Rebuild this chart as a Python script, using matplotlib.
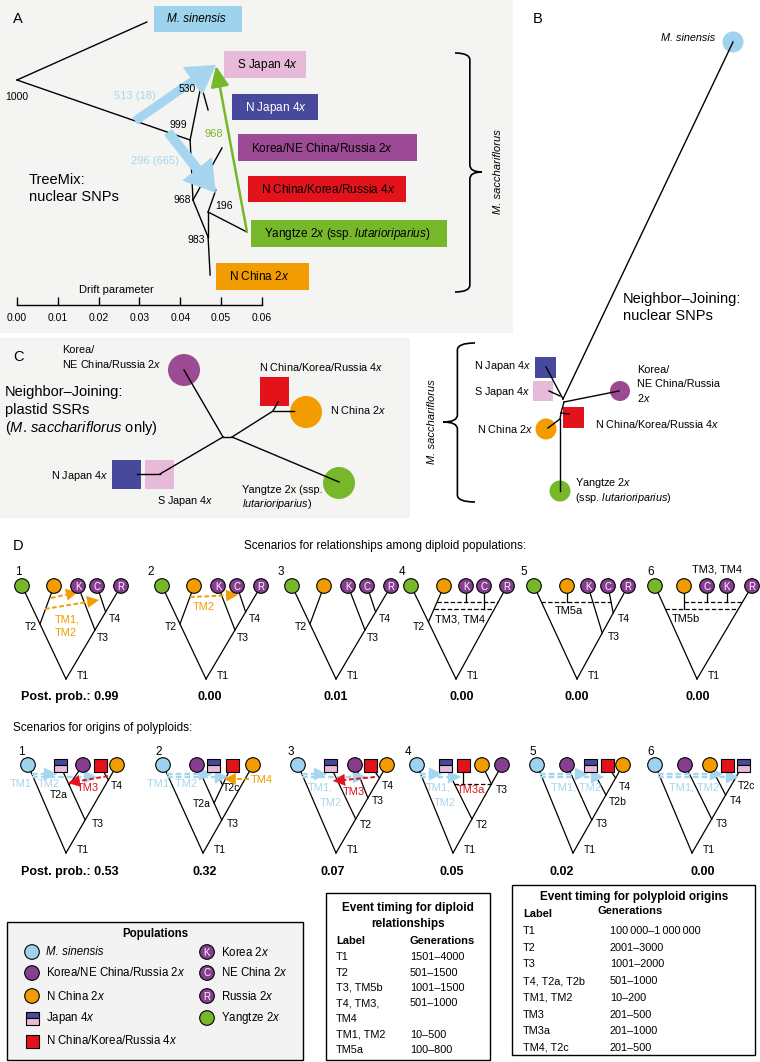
import matplotlib
matplotlib.use('Agg')
import matplotlib.pyplot as plt
from matplotlib.patches import Rectangle, Circle, PathPatch
from matplotlib.path import Path

plt.rcParams['font.family'] = ['Liberation Sans', 'DejaVu Sans']
plt.rcParams['mathtext.fontset'] = 'custom'
plt.rcParams['mathtext.rm'] = 'Liberation Sans'
plt.rcParams['mathtext.it'] = 'Liberation Sans:italic'
plt.rcParams['mathtext.bf'] = 'Liberation Sans:bold'

# ---------------------------------------------------------------- data
drift_ticks = [0.00, 0.01, 0.02, 0.03, 0.04, 0.05, 0.06]

# TreeMix tree: node -> (drift, row)
treemix_nodes = {
    'root': (0.0000, 80), 'msin': (0.0318, 22), 'n999': (0.0424, 140),
    'n530': (0.0451, 85), 'njap': (0.0468, 110), 'n968': (0.0431, 200),
    'kor': (0.0502, 148), 'n983': (0.0468, 237), 'nchina': (0.0473, 275),
    'n196': (0.0468, 212), 'ncr': (0.0487, 190), 'yang': (0.0563, 232),
}
treemix_edges = [('root', 'msin'), ('root', 'n999'), ('n999', 'n530'), ('n530', 'njap'),
                 ('n999', 'n968'), ('n968', 'kor'), ('n968', 'n983'), ('n983', 'nchina'),
                 ('n983', 'n196'), ('n196', 'ncr'), ('n196', 'yang')]
treemix_support = ['1000', '530', '999', '968', '196', '983']
support_nodes = ['root', 'n530', 'n999', 'n968', 'n196', 'n983']
migration_labels = ['513 (18)', '296 (665)', '968']

pops_A = ['M. sinensis', 'S Japan 4$x$', 'N Japan 4$x$', 'Korea/NE China/Russia 2$x$',
          'N China/Korea/Russia 4$x$', 'Yangtze 2$x$ (ssp. $\\mathit{lutarioriparius}$)', 'N China 2$x$']

post_prob_diploid = [0.99, 0.00, 0.01, 0.00, 0.00, 0.00]
post_prob_polyploid = [0.53, 0.32, 0.07, 0.05, 0.02, 0.00]

legend_left = ['M. sinensis', 'Korea/NE China/Russia 2$x$', 'N China 2$x$', 'Japan 4$x$', 'N China/Korea/Russia 4$x$']
legend_right = ['Korea 2$x$', 'NE China 2$x$', 'Russia 2$x$', 'Yangtze 2$x$']

diploid_timing_labels = ['T1', 'T2', 'T3, TM5b', 'T4, TM3,', 'TM4', 'TM1, TM2', 'TM5a']
diploid_timing_gens = ['1501–4000', '501–1500', '1001–1500', '501–1000', '', '10–500', '100–800']
poly_timing_labels = ['T1', 'T2', 'T3', 'T4, T2a, T2b', 'TM1, TM2', 'TM3', 'TM3a', 'TM4, T2c']
poly_timing_gens = ['100\u2009000–1\u2009000\u2009000', '2001–3000', '1001–2000', '501–1000',
                    '10–200', '201–500', '201–1000', '201–500']

# ---------------------------------------------------------------- colours
BG = '#f4f4f2'
LBLUE = '#a6d6ef'
C_MSIN = '#9dd3ec'
C_NJAP = '#474a9c'
C_SJAP = '#e6bad8'
C_KOR = '#9b4a93'
C_RED = '#e3131c'
C_YANG = '#76b82a'
C_ORA = '#f39c00'
C_PUR = '#873e91'

W, H = 760, 1062
fig = plt.figure(figsize=(W / 100, H / 100), dpi=100)
ax = fig.add_axes([0, 0, 1, 1])
ax.set_xlim(0, W)
ax.set_ylim(H, 0)
ax.axis('off')
TP = ax.transData

# ================================================================ panel A
PX_PER_DRIFT = 4083
A_X0 = 17


def d(px):
    return (px - A_X0) / PX_PER_DRIFT


axA = fig.add_axes([0, 1 - 333 / H, 513 / W, 333 / H])
axA.set_xlim(d(0), d(513))
axA.set_ylim(333, 0)
axA.set_facecolor(BG)
for s in ['top', 'left', 'right']:
    axA.spines[s].set_visible(False)
axA.spines['bottom'].set_position(('data', 305))
axA.spines['bottom'].set_bounds(0, 0.06)
axA.spines['bottom'].set_linewidth(1.0)
axA.set_xticks(drift_ticks)
axA.set_xticklabels(['%.2f' % t for t in drift_ticks], fontsize=7.5)
axA.tick_params(axis='x', direction='in', length=6, width=1.0, pad=6)
axA.set_yticks([])

for a, b in treemix_edges:
    xa, ya = treemix_nodes[a]
    xb, yb = treemix_nodes[b]
    axA.plot([xa, xb], [ya, yb], color='k', lw=1.0, zorder=2)

sup_off = [(0, 17), (-14, 4), (-12, -15), (-11, 0), (16, -6), (-12, 3)]
for lab, nd, (ox_, oy_) in zip(treemix_support, support_nodes, sup_off):
    x, y = treemix_nodes[nd]
    axA.text(d(A_X0 + x * PX_PER_DRIFT + ox_), y + oy_, lab, fontsize=7.5,
             ha='center', va='center', zorder=5)

# population boxes (px)
boxes_A = [(154, 6, 242, 32, C_MSIN, 'k'), (224, 51, 306, 78, C_SJAP, 'k'),
           (232, 94, 318, 120, C_NJAP, 'white'), (238, 134, 417, 161, C_KOR, 'k'),
           (248, 176, 406, 202, C_RED, 'k'), (251, 220, 447, 247, C_YANG, 'k'),
           (216, 263, 309, 290, C_ORA, 'k')]
for name, (x0, y0, x1, y1, col, tc) in zip(pops_A, boxes_A):
    axA.add_patch(Rectangle((x0, y0), x1 - x0, y1 - y0, fc=col, ec='none',
                            transform=TP, zorder=1))
    axA.text(x0 + 13, (y0 + y1) / 2 + 0.5, name, transform=TP, fontsize=8.5,
             color=tc, va='center', ha='left', zorder=5,
             style='italic' if name.startswith('M.') else 'normal')

# migration arrows
axA.annotate('', xy=(216, 65), xytext=(135, 121), xycoords=TP, textcoords=TP,
             arrowprops=dict(arrowstyle='simple,head_length=1.2,head_width=1.45,tail_width=0.38',
                             mutation_scale=17, fc=LBLUE, ec='none', shrinkA=0, shrinkB=0), zorder=3)
axA.annotate('', xy=(216, 193), xytext=(168, 132), xycoords=TP, textcoords=TP,
             arrowprops=dict(arrowstyle='simple,head_length=1.3,head_width=1.6,tail_width=0.42',
                             mutation_scale=17, fc=LBLUE, ec='none', shrinkA=0, shrinkB=0), zorder=3)
axA.annotate('', xy=(216, 66), xytext=(247, 232), xycoords=TP, textcoords=TP,
             arrowprops=dict(arrowstyle='-|>,head_length=0.9,head_width=0.4',
                             mutation_scale=14, color=C_YANG, lw=1.8, shrinkA=0, shrinkB=0), zorder=3)
axA.text(135, 96, migration_labels[0], transform=TP, fontsize=8, color=LBLUE, ha='center', va='center')
axA.text(155, 161, migration_labels[1], transform=TP, fontsize=8, color=LBLUE, ha='center', va='center')
axA.text(214, 134, migration_labels[2], transform=TP, fontsize=8, color=C_YANG, ha='center', va='center')

axA.text(29, 180, 'TreeMix:', transform=TP, fontsize=10.5, va='center')
axA.text(29, 197, 'nuclear SNPs', transform=TP, fontsize=10.5, va='center')
axA.text(13, 19, 'A', transform=TP, fontsize=10.5, va='center')
axA.text(d(116), 290, 'Drift parameter', fontsize=8, ha='center', va='center')


def brace(axis, x_end, x_tip, y0, y1, ym, k=7):
    xs = x_end + (x_tip - x_end) * 0.55
    verts = [(x_end, y0), (xs, y0), (xs, y0 + k), (xs, ym - k), (xs, ym), (x_tip, ym),
             (xs, ym), (xs, ym + k), (xs, y1 - k), (xs, y1), (x_end, y1)]
    codes = [Path.MOVETO, Path.CURVE3, Path.CURVE3, Path.LINETO, Path.CURVE3, Path.CURVE3,
             Path.CURVE3, Path.CURVE3, Path.LINETO, Path.CURVE3, Path.CURVE3]
    axis.add_patch(PathPatch(Path(verts, codes), fc='none', ec='k', lw=1.2, transform=TP))


brace(axA, 455, 482, 53, 292, 172)
axA.text(498, 172, 'M. sacchariflorus', transform=TP, rotation=90, fontsize=8,
         style='italic', ha='center', va='center')

# ================================================================ panel B
ax.text(533, 19, 'B', fontsize=10.5, va='center')
b_edges = [((733, 42), (563, 399)), ((563, 399), (546, 367)), ((560, 396), (549, 391)),
           ((564, 402), (619, 391)), ((564, 402), (561, 413)), ((561, 413), (569, 414)),
           ((561, 413), (560, 419)), ((560, 419), (548, 428)), ((560, 419), (560, 491))]
for (x0, y0), (x1, y1) in b_edges:
    ax.plot([x0, x1], [y0, y1], color='k', lw=1.0, zorder=3)
ax.add_patch(Circle((733, 42), 10.5, fc=C_MSIN, ec='none', zorder=2))
ax.add_patch(Rectangle((535, 357), 21, 21, fc=C_NJAP, ec='none', zorder=2))
ax.add_patch(Rectangle((533, 381), 20, 20, fc=C_SJAP, ec='none', zorder=2))
ax.add_patch(Circle((620, 391), 10, fc=C_KOR, ec='none', zorder=2))
ax.add_patch(Rectangle((563, 407), 21, 21, fc=C_RED, ec='none', zorder=2))
ax.add_patch(Circle((546, 429), 10.5, fc=C_ORA, ec='none', zorder=2))
ax.add_patch(Circle((560, 491), 10.5, fc=C_YANG, ec='none', zorder=2))

fs_b = 7.8
ax.text(715, 38, pops_A[0], fontsize=fs_b, style='italic', ha='right', va='center')
ax.text(531, 366, 'N Japan 4$x$', fontsize=fs_b, ha='right', va='center')
ax.text(531, 392, 'S Japan 4$x$', fontsize=fs_b, ha='right', va='center')
ax.text(533, 429, 'N China 2$x$', fontsize=fs_b, ha='right', va='center')
ax.text(637, 370, 'Korea/', fontsize=fs_b, va='center')
ax.text(637, 384, 'NE China/Russia', fontsize=fs_b, va='center')
ax.text(637, 398, '2$x$', fontsize=fs_b, va='center')
ax.text(595, 424, 'N China/Korea/Russia 4$x$', fontsize=fs_b, va='center')
ax.text(575, 483, 'Yangtze 2$x$', fontsize=fs_b, va='center')
ax.text(575, 498, '(ssp. $\\mathit{lutarioriparius}$)', fontsize=fs_b, va='center')
ax.text(623, 299, 'Neighbor–Joining:', fontsize=10.5, va='center')
ax.text(623, 316, 'nuclear SNPs', fontsize=10.5, va='center')
brace(ax, 475, 443, 343, 502, 422)
ax.text(432, 422, 'M. sacchariflorus', rotation=90, fontsize=8, style='italic',
        ha='center', va='center')

# ================================================================ panel C
ax.add_patch(Rectangle((0, 338), 410, 180, fc=BG, ec='none', zorder=0))
ax.text(13, 357, 'C', fontsize=10.5, va='center')
c_edges = [((184, 370), (223, 437)), ((223, 437), (232, 437)), ((232, 437), (273, 411)),
           ((273, 411), (278, 402)), ((273, 411), (294, 411)), ((232, 437), (339, 482)),
           ((223, 437), (160, 474)), ((160, 474), (137, 474))]
for (x0, y0), (x1, y1) in c_edges:
    ax.plot([x0, x1], [y0, y1], color='k', lw=1.0, zorder=3)
ax.add_patch(Circle((184, 370), 16, fc=C_KOR, ec='none', zorder=2))
ax.add_patch(Rectangle((260, 377), 29, 29, fc=C_RED, ec='none', zorder=2))
ax.add_patch(Circle((306, 412), 16, fc=C_ORA, ec='none', zorder=2))
ax.add_patch(Circle((339, 483), 16, fc=C_YANG, ec='none', zorder=2))
ax.add_patch(Rectangle((112, 460), 29, 29, fc=C_NJAP, ec='none', zorder=2))
ax.add_patch(Rectangle((145, 460), 29, 29, fc=C_SJAP, ec='none', zorder=2))
ax.text(62, 350, 'Korea/', fontsize=fs_b, va='center')
ax.text(62, 364, 'NE China/Russia 2$x$', fontsize=fs_b, va='center')
ax.text(259, 367, 'N China/Korea/Russia 4$x$', fontsize=fs_b, va='center')
ax.text(330, 410, 'N China 2$x$', fontsize=fs_b, va='center')
ax.text(108, 476, 'N Japan 4$x$', fontsize=fs_b, ha='right', va='center')
ax.text(157, 501, 'S Japan 4$x$', fontsize=fs_b, va='center')
ax.text(242, 490, 'Yangtze 2x (ssp.', fontsize=fs_b, va='center')
ax.text(242, 504, '$\\mathit{lutarioriparius}$)', fontsize=fs_b, va='center')
ax.text(5, 392, 'Neighbor–Joining:', fontsize=10.5, va='center')
ax.text(5, 410, 'plastid SSRs', fontsize=10.5, va='center')
ax.text(5, 428, '($\\mathit{M.\\,sacchariflorus}$ only)', fontsize=10.5, va='center')

# ================================================================ panel D
TIPCOL = {'g': C_YANG, 'o': C_ORA, 'K': C_PUR, 'C': C_PUR, 'R': C_PUR,
          'ms': C_MSIN, 'pu': C_PUR, 'or': C_ORA}


def on_line(p, q, y):
    t = (y - p[1]) / (q[1] - p[1])
    return (p[0] + t * (q[0] - p[0]), y)


def draw_tip(k, x, y):
    if k == 'rd':
        ax.add_patch(Rectangle((x - 6.5, y - 6.5), 13, 13, fc=C_RED, ec='k', lw=0.8, zorder=5))
    elif k == 'jp':
        ax.add_patch(Rectangle((x - 6.5, y - 6.5), 13, 6.5, fc=C_NJAP, ec='k', lw=0.8, zorder=5))
        ax.add_patch(Rectangle((x - 6.5, y), 13, 6.5, fc=C_SJAP, ec='k', lw=0.8, zorder=5))
    else:
        ax.add_patch(Circle((x, y), 7.3, fc=TIPCOL[k], ec='k', lw=0.8, zorder=5))
        if k in ('K', 'C', 'R'):
            ax.text(x, y + 0.5, k, color='white', fontsize=7, ha='center', va='center', zorder=6)


def dashed_arrow(x0, y0, x1, y1, col, lw, head):
    # dashed shaft, solid head
    L = ((x1 - x0) ** 2 + (y1 - y0) ** 2) ** 0.5
    ux, uy = (x1 - x0) / L, (y1 - y0) / L
    xs, ys = x1 - ux * head * 0.8, y1 - uy * head * 0.8
    ax.plot([x0, xs], [y0, ys], color=col, lw=lw, ls=(0, (2.4, 1.3)), zorder=4,
            solid_capstyle='butt', dash_capstyle='butt')
    ax.annotate('', xy=(x1, y1), xytext=(x1 - ux * head, y1 - uy * head),
                arrowprops=dict(arrowstyle='-|>,head_length=0.9,head_width=0.45', fc=col, ec=col,
                                lw=0.3, shrinkA=0, shrinkB=0, mutation_scale=head), zorder=4)


def draw_tree(spec, ox, tip_y, root_y):
    P = {}
    for k, dx in spec['tips']:
        P[k] = (ox + dx, tip_y)
    P['root'] = (ox + spec['root'], root_y)
    for name, a, b, y in spec.get('nodes', []):
        P[name] = on_line(P[a], P[b], y)
    for a, b in spec['edges']:
        ax.plot([P[a][0], P[b][0]], [P[a][1], P[b][1]], color='k', lw=0.9, zorder=2)
    for k, y in spec.get('verticals', []):
        ax.plot([P[k][0]] * 2, [tip_y, y], color='k', lw=0.9, zorder=2)
    for y, e0, e1 in spec.get('dashed', []):
        xs = [P[e][0] if isinstance(e, str) else on_line(P[e[0]], P[e[1]], y)[0] for e in (e0, e1)]
        ax.plot(xs, [y, y], color='k', lw=0.9, ls=(0, (3.5, 1.8)), zorder=2)
    for x0, y0, x1, y1, col, lw, ms in spec.get('arrows', []):
        dashed_arrow(ox + x0, y0, ox + x1, y1, col, lw, ms)
    for text, node, ddx, ddy, ha in spec.get('labels', []):
        ax.text(P[node][0] + ddx, P[node][1] + ddy, text, ha=ha, va='center', fontsize=7.5, zorder=6)
    ax.text(P['root'][0] + 11, root_y - 3, 'T1', ha='left', va='center', fontsize=7.5)
    for text, dx, y, col, ha in spec.get('texts', []):
        ax.text(ox + dx, y, text, color=col, ha=ha, va='center', fontsize=8, zorder=6)
    for k, dx in spec['tips']:
        draw_tip(k, ox + dx, tip_y)


base1 = dict(tips=[('g', 0), ('o', 32), ('K', 56), ('C', 75), ('R', 99)], root=44,
             nodes=[('T2', 'g', 'root', 624), ('T3', 'R', 'root', 630), ('T4', 'R', 'T3', 612)],
             edges=[('g', 'root'), ('o', 'T2'), ('R', 'root'), ('K', 'T3'), ('C', 'T4')],
             labels=[('T2', 'T2', -3, 3, 'right'), ('T3', 'T3', 2, 8, 'left'), ('T4', 'T4', 3, 7, 'left')])
row1 = [
    dict(base1, arrows=[(29, 598, 56, 592, C_ORA, 1.4, 9), (23, 609, 77, 600, C_ORA, 1.4, 9)],
         texts=[('TM1,', 33, 620, C_ORA, 'left'), ('TM2', 33, 633, C_ORA, 'left')]),
    dict(base1, arrows=[(28, 597, 76, 595, C_ORA, 1.4, 9)],
         texts=[('TM2', 31, 607, C_ORA, 'left')]),
    dict(base1),
    dict(tips=[('g', 0), ('o', 33), ('K', 55), ('C', 73), ('R', 96)], root=45,
         nodes=[('T2', 'g', 'root', 622)],
         edges=[('g', 'root'), ('o', 'T2'), ('R', 'root')],
         verticals=[('K', 602), ('C', 609)],
         dashed=[(602, ('o', 'T2'), ('R', 'root')), (609, ('o', 'T2'), ('R', 'root'))],
         labels=[('T2', 'T2', -3, 5, 'right')],
         texts=[('TM3, TM4', 24, 619, 'k', 'left')]),
    dict(tips=[('g', 0), ('o', 33), ('K', 54), ('C', 74), ('R', 94)], root=43,
         nodes=[('T3', 'R', 'root', 633), ('T4', 'R', 'T3', 613)],
         edges=[('g', 'root'), ('R', 'root'), ('K', 'T3'), ('C', 'T4')],
         verticals=[('o', 602)],
         dashed=[(602, ('g', 'root'), ('C', 'T4'))],
         labels=[('T4', 'T4', 5, 6, 'left'), ('T3', 'T3', 6, 4, 'left')],
         texts=[('TM5a', 21, 611, 'k', 'left')]),
    dict(tips=[('g', 0), ('o', 29), ('C', 52), ('K', 72), ('R', 97)], root=42,
         edges=[('g', 'root'), ('R', 'root')],
         verticals=[('o', 609), ('C', 602), ('K', 602)],
         dashed=[(602, 'o', ('R', 'root')), (609, ('g', 'root'), ('R', 'root'))],
         texts=[('TM3, TM4', 37, 569, 'k', 'left'), ('TM5b', 17, 619, 'k', 'left')]),
]
R1_OX = [22, 162, 292, 411, 534, 655]
R1_NUM_X = [15, 147, 278, 399, 520, 647]
R1_PP_X = [70, 210, 336, 462, 577, 698]

ax.text(13, 546, 'D', fontsize=10.5, va='center')
ax.text(385, 546, 'Scenarios for relationships among diploid populations:', fontsize=8.5,
        ha='center', va='center')
for i, spec in enumerate(row1):
    draw_tree(spec, R1_OX[i], 586, 679)
    ax.text(R1_NUM_X[i], 572, str(i + 1), fontsize=8.5, va='center')
    pp = '%.2f' % post_prob_diploid[i]
    ax.text(R1_PP_X[i], 697, ('Post. prob.: ' + pp) if i == 0 else pp, fontsize=9,
            weight='bold', ha='center', va='center')

LB = LBLUE
row2 = [
    dict(tips=[('ms', 0), ('jp', 32), ('pu', 55), ('rd', 72), ('or', 89)], root=38,
         nodes=[('T3', 'or', 'root', 820), ('T4', 'or', 'T3', 780), ('T2a', 'jp', 'T3', 785)],
         edges=[('ms', 'root'), ('or', 'root'), ('jp', 'T3'), ('pu', 'T2a'), ('rd', 'T4')],
         labels=[('T2a', 'T2a', -1, 10, 'right'), ('T4', 'T4', 3, 6, 'left'), ('T3', 'T3', 7, 4, 'left')],
         arrows=[(4, 774, 29, 774, LB, 1.7, 10), (4, 777, 69, 777, LB, 1.7, 10),
                 (80, 776, 40, 783, C_RED, 1.4, 9)],
         texts=[('TM1', -7, 784, LB, 'center'), ('TM2', 21, 784, LB, 'center'),
                ('TM3', 60, 788, C_RED, 'center')]),
    dict(tips=[('ms', 0), ('pu', 34), ('jp', 50), ('rd', 69), ('or', 90)], root=40,
         nodes=[('T3', 'or', 'root', 820), ('T2a', 'pu', 'T3', 803), ('T2c', 'rd', 'T2a', 785)],
         edges=[('ms', 'root'), ('or', 'root'), ('pu', 'T3'), ('rd', 'T2a'), ('jp', 'T2c')],
         labels=[('T2a', 'T2a', -3, 1, 'right'), ('T2c', 'T2c', 0, 3, 'left'), ('T3', 'T3', 5, 4, 'left')],
         arrows=[(4, 774, 49, 774, LB, 1.7, 10), (4, 777, 65, 777, LB, 1.7, 10),
                 (86, 779, 61, 779, C_ORA, 1.4, 9)],
         texts=[('TM1, TM2', 9, 784, LB, 'center'), ('TM4', 88, 780, C_ORA, 'left')]),
    dict(tips=[('ms', 0), ('jp', 32), ('pu', 57), ('rd', 72), ('or', 89)], root=38,
         nodes=[('T2', 'or', 'root', 819), ('T3', 'or', 'T2', 798), ('T4', 'or', 'T2', 778)],
         edges=[('ms', 'root'), ('or', 'root'), ('jp', 'T2'), ('pu', 'T3'), ('rd', 'T4')],
         labels=[('T4', 'T4', 2, 8, 'left'), ('T3', 'T3', 4, 3, 'left'), ('T2', 'T2', 4, 6, 'left')],
         arrows=[(4, 774, 29, 774, LB, 1.7, 10), (4, 777, 68, 777, LB, 1.7, 10),
                 (77, 777, 35, 781, C_RED, 1.4, 9)],
         texts=[('TM1,', 22, 787, LB, 'center'), ('TM2', 33, 803, LB, 'center'),
                ('TM3', 56, 792, C_RED, 'center')]),
    dict(tips=[('ms', 0), ('jp', 28), ('rd', 46), ('or', 65), ('pu', 85)], root=36,
         nodes=[('T2', 'pu', 'root', 819), ('T3', 'pu', 'T2', 784)],
         edges=[('ms', 'root'), ('pu', 'root'), ('jp', 'T2'), ('or', 'T3')],
         verticals=[('rd', 784)],
         dashed=[(784, ('jp', 'T2'), 'T3')],
         labels=[('T3', 'T3', 4, 6, 'left'), ('T2', 'T2', 4, 6, 'left')],
         arrows=[(3, 774, 25, 774, LB, 1.7, 10), (3, 777, 44, 777, LB, 1.7, 10)],
         texts=[('TM1,', 21, 787, LB, 'center'), ('TM2', 28, 803, LB, 'center'),
                ('TM3a', 54, 790, C_RED, 'center')]),
    dict(tips=[('ms', 0), ('pu', 30), ('jp', 53), ('rd', 70), ('or', 86)], root=36,
         nodes=[('T3', 'or', 'root', 820), ('T2b', 'or', 'T3', 795), ('T4', 'or', 'T3', 778)],
         edges=[('ms', 'root'), ('or', 'root'), ('pu', 'T3'), ('jp', 'T2b'), ('rd', 'T4')],
         labels=[('T4', 'T4', 3, 9, 'left'), ('T2b', 'T2b', 3, 7, 'left'), ('T3', 'T3', 4, 4, 'left')],
         arrows=[(3, 774, 51, 774, LB, 1.7, 10), (3, 777, 67, 777, LB, 1.7, 10)],
         texts=[('TM1, TM2', 39, 787, LB, 'center')]),
    dict(tips=[('ms', 0), ('pu', 30), ('or', 55), ('rd', 72), ('jp', 88)], root=37,
         nodes=[('T3', 'jp', 'root', 819), ('T4', 'jp', 'T3', 795), ('T2c', 'jp', 'T3', 780)],
         edges=[('ms', 'root'), ('jp', 'root'), ('pu', 'T3'), ('or', 'T4'), ('rd', 'T2c')],
         labels=[('T2c', 'T2c', 4, 6, 'left'), ('T4', 'T4', 4, 6, 'left'), ('T3', 'T3', 4, 5, 'left')],
         arrows=[(3, 774, 68, 774, LB, 1.7, 10), (3, 777, 84, 777, LB, 1.7, 10)],
         texts=[('TM1, TM2', 39, 787, LB, 'center')]),
]
R2_OX = [28, 163, 298, 417, 537, 655]
R2_NUM_X = [18, 155, 288, 405, 529, 647]
R2_PP_X = [70, 205, 333, 452, 562, 703]

ax.text(13, 728, 'Scenarios for origins of polyploids:', fontsize=8.5, va='center')
for i, spec in enumerate(row2):
    draw_tree(spec, R2_OX[i], 765, 853)
    ax.text(R2_NUM_X[i], 752, str(i + 1), fontsize=8.5, va='center')
    pp = '%.2f' % post_prob_polyploid[i]
    ax.text(R2_PP_X[i], 872, ('Post. prob.: ' + pp) if i == 0 else pp, fontsize=9,
            weight='bold', ha='center', va='center')

# ---------------------------------------------------------------- legend box
ax.add_patch(Rectangle((7, 922), 296, 138, fc='#f3f3f3', ec='k', lw=1.0, zorder=1))
ax.text(155, 934, 'Populations', fontsize=8.3, weight='bold', ha='center', va='center')
leg_y = [952, 973, 996, 1018, 1041]
for name, k, y in zip(legend_left, ['ms', 'pu', 'or', 'jp', 'rd'], leg_y):
    draw_tip(k, 32, y)
    ax.text(46, y, name, fontsize=8.3, va='center', style='italic' if name.startswith('M.') else 'normal')
for name, k, y in zip(legend_right, ['K', 'C', 'R', 'g'], leg_y):
    draw_tip(k, 207, y)
    ax.text(221, y, name, fontsize=8.3, va='center')

# ---------------------------------------------------------------- timing tables
ax.add_patch(Rectangle((326, 893), 164, 167, fc='white', ec='k', lw=1.0, zorder=1))
ax.text(408, 908, 'Event timing for diploid', fontsize=8.5, weight='bold', ha='center', va='center')
ax.text(408, 924, 'relationships', fontsize=8.5, weight='bold', ha='center', va='center')
ax.text(336, 941, 'Label', fontsize=8, weight='bold', va='center')
ax.text(410, 941, 'Generations', fontsize=8, weight='bold', va='center')
for j, (lab, gen) in enumerate(zip(diploid_timing_labels, diploid_timing_gens)):
    y = 957 + j * 15.5
    ax.text(336, y, lab, fontsize=7.8, va='center')
    ax.text(410, y, gen, fontsize=7.8, va='center')

ax.add_patch(Rectangle((512, 885), 243, 170, fc='white', ec='k', lw=1.0, zorder=1))
ax.text(634, 897, 'Event timing for polyploid origins', fontsize=8.5, weight='bold',
        ha='center', va='center')
ax.text(523, 914, 'Label', fontsize=8, weight='bold', va='center')
ax.text(598, 911, 'Generations', fontsize=8, weight='bold', va='center')
for j, (lab, gen) in enumerate(zip(poly_timing_labels, poly_timing_gens)):
    y = 931 + j * 16.7
    ax.text(523, y, lab, fontsize=7.8, va='center')
    ax.text(610, y, gen, fontsize=7.8, va='center')

fig.savefig('out.png', dpi=100)
